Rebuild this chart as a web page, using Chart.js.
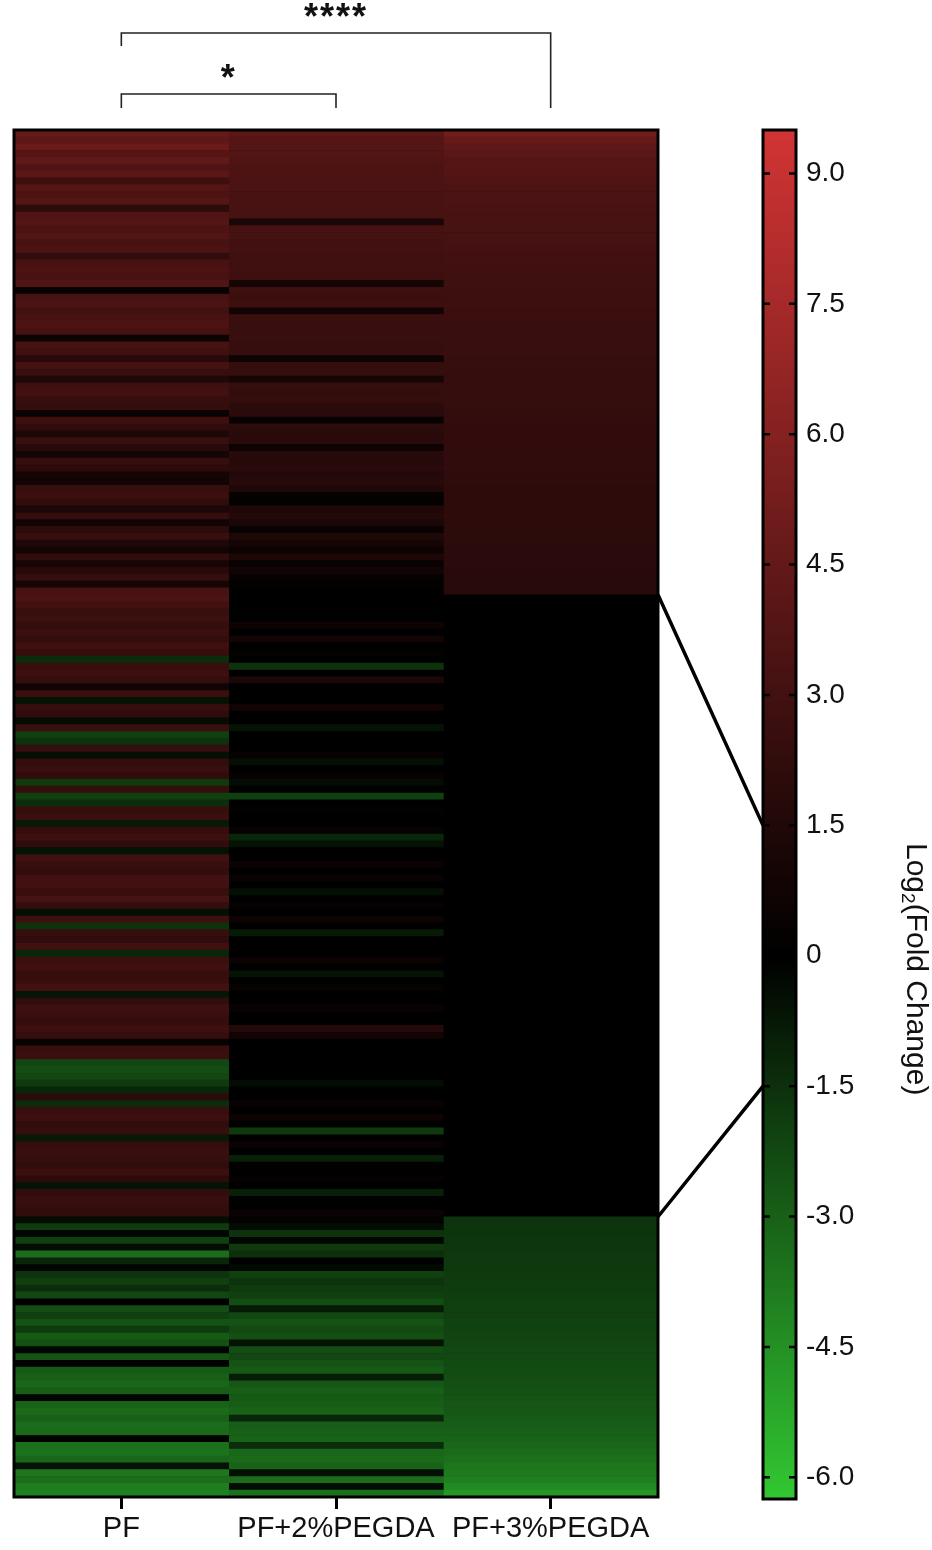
<!DOCTYPE html>
<html>
<head>
<meta charset="utf-8">
<title>Log2 fold change heatmap</title>
<script src="https://cdn.jsdelivr.net/npm/chart.js@4.4.1/dist/chart.umd.min.js"></script>
<style>
  html, body { margin: 0; padding: 0; background: #fff; }
  #wrap { position: relative; width: 932px; height: 1550px; }
  #wrap canvas { position: absolute; left: 0; top: 0; }
</style>
</head>
<body>
<div id="wrap">
  <canvas id="heat" width="932" height="1550"></canvas>
  <canvas id="scale" width="932" height="1550"></canvas>
</div>
<script>
const groups = ["PF", "PF+2%PEGDA", "PF+3%PEGDA"];

// log2 fold change per protein row, read top to bottom
const pf = [
  4.6, 4.2, 4.8, 3.9, 4.4, 3.6, 4.1, 2.8, 3.9, 3.5,
  3.8, 2.0, 3.6, 3.9, 3.4, 3.7, 3.2, 3.5, 2.2, 3.3,
  3.5, 3.3, 3.6, 0.4, 3.2, 3.4, 3.0, 3.3, 3.5, 3.1,
  0.6, 3.2, 2.9, 1.8, 3.1, 2.6, 1.4, 2.8, 3.0, 2.5,
  2.4, 0.5, 2.8, 2.2, 1.3, 2.6, 1.8, 1.0, 2.5, 2.1,
  1.0, 0.8, 2.5, 2.7, 2.2, 1.2, 2.4, 0.8, 2.0, 2.6,
  1.4, 0.9, 2.2, 1.1, 1.8, 2.4, 1.0, 3.2, 3.4, 3.0,
  2.6, 2.8, 2.4, 2.7, 2.3, 2.9, 2.5, -1.4, 2.6, 2.8,
  2.4, 0.8, 2.7, -0.6, 2.5, 2.2, -0.4, 2.6, -2.0, -1.6,
  2.5, -0.5, 2.3, 2.6, 2.2, -1.8, 2.4, -2.0, -1.4, 2.5,
  2.7, -0.8, 2.4, 2.8, 2.2, -0.6, 2.9, 2.6, 2.3, 3.0,
  3.0, 2.6, 3.2, 2.4, -0.5, 2.8, -1.6, 2.5, 2.2, 2.9,
  -1.2, 2.7, 2.9, 2.5, 2.6, 3.0, -0.7, 2.3, 2.8, 2.6,
  2.4, 2.8, 2.5, 0.4, 2.6, 2.7, -2.2, -2.4, -2.2, -1.8,
  -1.2, 2.0, -1.4, 2.6, 2.8, 2.2, 2.5, -0.8, 2.4, 2.6,
  2.5, 2.2, 2.7, 2.0, -0.6, 2.3, 2.6, 2.4, 2.2, -0.4,
  -1.8, -0.2, -2.0, -0.4, -3.4, -1.2, -0.2, -1.6, -2.0, -1.4,
  -2.2, 0.0, -2.4, -2.0, -2.6, -1.8, -2.8, -2.5, -0.2, -2.6,
  -0.1, -2.8, -3.0, -3.2, -2.9, -0.2, -3.1, -3.3, -3.0, -3.4,
  -3.3, -0.1, -3.5, -3.6, -3.2, -0.6, -3.7, -3.4, -3.9, -4.0
];

const pf2 = [
  4.1, 3.9, 3.8, 3.7, 3.6, 3.5, 3.5, 3.4, 3.4, 3.3,
  3.3, 3.2, 3.2, 1.2, 3.1, 3.1, 3.0, 3.0, 2.9, 2.9,
  2.9, 2.8, 1.0, 2.8, 2.7, 2.8, 0.8, 2.7, 2.6, 2.6,
  2.6, 2.5, 2.5, 0.6, 2.4, 2.5, 1.0, 2.4, 2.3, 2.4,
  2.0, 1.9, 0.4, 2.0, 1.8, 1.9, 0.6, 1.8, 1.7, 1.9,
  1.6, 1.8, 1.5, 0.3, 0.2, 1.5, 1.6, 1.2, 0.4, 1.4,
  1.0, 0.6, 1.3, 0.4, 0.8, 0.3, 0.2, 0.1, 0.0, 0.0,
  0.1, 0.0, 0.6, 0.0, 0.9, 0.0, 0.2, 0.0, -1.6, 0.0,
  1.2, 0.0, 0.0, 0.0, 0.8, 0.0, 0.0, -0.6, 0.0, 0.0,
  0.0, 0.4, -0.5, 0.0, 0.3, -0.4, 0.0, -2.0, 0.0, 0.2,
  0.0, 0.0, 0.3, -1.2, -0.6, 0.0, 0.0, 0.5, 0.0, 0.4,
  0.0, -0.5, 0.0, 0.3, 0.0, 0.6, 0.0, -0.8, 0.0, 0.0,
  0.0, 0.5, 0.0, -0.6, 0.0, 0.3, 0.0, 0.0, 0.4, 0.0,
  0.0, 1.6, 0.8, 0.0, 0.0, 0.0, 0.0, 0.0, 0.0, -0.4,
  0.0, 0.0, 0.4, 0.0, 0.6, 0.0, -1.8, 0.0, 0.5, 0.0,
  -1.0, 0.0, 0.0, 0.3, 0.0, -1.0, 0.0, 0.0, 0.5, 0.2,
  -0.4, -1.6, -0.2, -1.8, -1.5, 0.0, -0.3, -2.0, -1.6, -1.8,
  -2.0, -2.4, -0.8, -2.2, -2.6, -2.3, -2.5, -0.6, -2.4, -2.2,
  -2.6, -2.8, -0.9, -2.7, -3.0, -2.8, -2.9, -3.1, -1.2, -2.9,
  -3.0, -3.1, -1.4, -3.2, -3.3, -3.1, -0.5, -3.4, -0.4, -3.5
];

const pf3 = [
  5.2, 4.6, 4.3, 4.1, 3.9, 3.8, 3.7, 3.6, 3.5, 3.45,
  3.4, 3.35, 3.3, 3.25, 3.2, 3.15, 3.1, 3.05, 3.0, 2.95,
  2.9, 2.87, 2.84, 2.8, 2.77, 2.74, 2.7, 2.67, 2.64, 2.6,
  2.58, 2.55, 2.52, 2.5, 2.47, 2.45, 2.42, 2.4, 2.38, 2.36,
  2.34, 2.32, 2.3, 2.28, 2.26, 2.24, 2.22, 2.2, 2.18, 2.16,
  2.14, 2.12, 2.1, 2.08, 2.06, 2.04, 2.02, 2.0, 1.98, 1.96,
  1.94, 1.92, 1.9, 1.88, 1.86, 1.84, 1.82, 1.8, 0, 0,
  0, 0, 0, 0, 0, 0, 0, 0, 0, 0,
  0, 0, 0, 0, 0, 0, 0, 0, 0, 0,
  0, 0, 0, 0, 0, 0, 0, 0, 0, 0,
  0, 0, 0, 0, 0, 0, 0, 0, 0, 0,
  0, 0, 0, 0, 0, 0, 0, 0, 0, 0,
  0, 0, 0, 0, 0, 0, 0, 0, 0, 0,
  0, 0, 0, 0, 0, 0, 0, 0, 0, 0,
  0, 0, 0, 0, 0, 0, 0, 0, 0, 0,
  0, 0, 0, 0, 0, 0, 0, 0, 0, -1.6,
  -1.62, -1.65, -1.68, -1.7, -1.72, -1.75, -1.78, -1.8, -1.83, -1.86,
  -1.9, -1.93, -1.96, -2.0, -2.04, -2.08, -2.12, -2.16, -2.2, -2.25,
  -2.3, -2.35, -2.4, -2.46, -2.52, -2.58, -2.65, -2.72, -2.8, -2.9,
  -3.0, -3.1, -3.2, -3.35, -3.5, -3.65, -3.8, -4.0, -4.3, -4.7
];

const columns = [pf, pf2, pf3];
const cbTicks = [-6, -4.5, -3, -1.5, 0, 1.5, 3, 4.5, 6, 7.5, 9];
const cbMin = -6.25;
const cbMax = 9.5;
const cutoff = 1.5; // regulation threshold shown by the connector lines
const brackets = [
  { from: 0, to: 1, label: "*" },
  { from: 0, to: 2, label: "****" },
];

const RED = [210, 52, 52];
const GREEN = [50, 200, 50];
const FONT = "'Liberation Sans', Arial, sans-serif";

Chart.defaults.font.family = FONT;
Chart.defaults.color = "#111";

function heatColor(v) {
  const end = v >= 0 ? RED : GREEN;
  const t = Math.min(1, v >= 0 ? v / cbMax : v / cbMin);
  return `rgb(${Math.round(end[0] * t)},${Math.round(end[1] * t)},${Math.round(end[2] * t)})`;
}

const heatDecor = {
  id: "heatDecor",
  beforeDatasetsDraw(chart) {
    const { ctx, chartArea: a } = chart;
    ctx.save();
    ctx.fillStyle = "#000";
    ctx.fillRect(a.left, a.top, a.right - a.left, a.bottom - a.top);
    ctx.restore();
  },
  afterDatasetsDraw(chart) {
    const { ctx, chartArea: a } = chart;
    ctx.save();
    ctx.strokeStyle = "#000";
    ctx.lineWidth = 3;
    ctx.strokeRect(a.left, a.top, a.right - a.left, a.bottom - a.top);
    ctx.restore();
  },
  afterDraw(chart) {
    const { ctx, chartArea: a } = chart;
    const x = chart.scales.x;
    const px = (i) => x.getPixelForValue(i + 0.5);
    ctx.save();
    ctx.strokeStyle = "#222";
    ctx.lineWidth = 1.6;
    ctx.fillStyle = "#111";
    ctx.font = `bold 36px ${FONT}`;
    ctx.textAlign = "center";
    ctx.textBaseline = "top";
    ctx.letterSpacing = "2px";
    brackets.forEach((b, k) => {
      const y = a.top - 36 - k * 61;
      const leftDrop = k === 0 ? 14 : 13;
      ctx.beginPath();
      ctx.moveTo(px(b.from), y + leftDrop);
      ctx.lineTo(px(b.from), y);
      ctx.lineTo(px(b.to), y);
      ctx.lineTo(px(b.to), a.top - 22);
      ctx.stroke();
      ctx.fillText(b.label, (px(b.from) + px(b.to)) / 2, y - 32);
    });
    ctx.restore();
  },
};

const heatChart = new Chart(document.getElementById("heat"), {
  type: "bar",
  data: {
    labels: pf.map((_, i) => String(i + 1)),
    datasets: columns.map((values, i) => ({
      label: groups[i],
      data: values.map(() => [i, i + 1]),
      backgroundColor: values.map(heatColor),
      borderWidth: 0,
      barPercentage: 1,
      categoryPercentage: 1,
      grouped: false,
    })),
  },
  options: {
    indexAxis: "y",
    responsive: false,
    animation: false,
    layout: { padding: { left: 14, top: 130, right: 274, bottom: 3 } },
    plugins: { legend: { display: false }, tooltip: { enabled: false } },
    scales: {
      y: { type: "category", display: false },
      x: {
        type: "linear",
        min: 0,
        max: 3,
        afterBuildTicks: (scale) => {
          scale.ticks = groups.map((_, i) => ({ value: i + 0.5 }));
        },
        afterFit: (scale) => {
          scale.height = 50;
        },
        ticks: {
          autoSkip: false,
          maxRotation: 0,
          padding: 3,
          font: { size: 29 },
          color: "#111",
          callback: (v) => groups[Math.floor(v)],
        },
        grid: { drawOnChartArea: false, tickLength: 12, color: "#000", lineWidth: 3 },
        border: { display: false },
      },
    },
  },
  plugins: [heatDecor],
});

const scaleDecor = {
  id: "scaleDecor",
  afterDatasetsDraw(chart) {
    const { ctx, chartArea: a } = chart;
    const y = chart.scales.y;
    ctx.save();
    ctx.strokeStyle = "#000";
    ctx.lineWidth = 2.5;
    y.ticks.forEach((t) => {
      const py = y.getPixelForValue(t.value);
      ctx.beginPath();
      ctx.moveTo(a.left, py);
      ctx.lineTo(a.left + 7, py);
      ctx.moveTo(a.right - 7, py);
      ctx.lineTo(a.right, py);
      ctx.stroke();
    });
    ctx.lineWidth = 3;
    ctx.strokeRect(a.left, a.top, a.right - a.left, a.bottom - a.top);
    ctx.restore();
  },
  afterDraw(chart) {
    const { ctx, chartArea: a } = chart;
    const y = chart.scales.y;

    // connectors from the PF+3%PEGDA blocks to the +/- cutoff on the colour bar
    const hy = heatChart.scales.y;
    const edge = (idx) => (hy.getPixelForValue(idx - 1) + hy.getPixelForValue(idx)) / 2;
    const upEnd = pf3.findIndex((v) => v < cutoff);
    const downStart = pf3.findIndex((v) => v <= -cutoff);
    const hx = heatChart.chartArea.right;
    ctx.save();
    ctx.strokeStyle = "#000";
    ctx.lineWidth = 3.5;
    ctx.beginPath();
    ctx.moveTo(hx, edge(upEnd));
    ctx.lineTo(a.left, y.getPixelForValue(cutoff));
    ctx.moveTo(hx, edge(downStart));
    ctx.lineTo(a.left, y.getPixelForValue(-cutoff));
    ctx.stroke();

    // axis title, rotated to read top to bottom
    ctx.translate(a.right + 119, a.top + (a.bottom - a.top) * 0.613);
    ctx.rotate(Math.PI / 2);
    ctx.fillStyle = "#111";
    ctx.textBaseline = "middle";
    ctx.textAlign = "left";
    const big = `30px ${FONT}`;
    const small = `19px ${FONT}`;
    ctx.font = big;
    const w1 = ctx.measureText("Log").width;
    const w3 = ctx.measureText("(Fold Change)").width;
    ctx.font = small;
    const w2 = ctx.measureText("2").width;
    const x0 = -(w1 + w2 + w3) / 2;
    ctx.font = big;
    ctx.fillText("Log", x0, 0);
    ctx.font = small;
    ctx.fillText("2", x0 + w1, 8);
    ctx.font = big;
    ctx.fillText("(Fold Change)", x0 + w1 + w2, 0);
    ctx.restore();
  },
};

new Chart(document.getElementById("scale"), {
  type: "bar",
  data: {
    labels: [""],
    datasets: [{
      data: [[cbMin, cbMax]],
      backgroundColor: (c) => {
        const chart = c.chart;
        const y = chart.scales.y;
        if (!chart.chartArea || !y) return "#000";
        const top = y.getPixelForValue(cbMax);
        const bottom = y.getPixelForValue(cbMin);
        const g = chart.ctx.createLinearGradient(0, top, 0, bottom);
        g.addColorStop(0, heatColor(cbMax));
        g.addColorStop((y.getPixelForValue(0) - top) / (bottom - top), "#000");
        g.addColorStop(1, heatColor(cbMin));
        return g;
      },
      borderWidth: 0,
      barPercentage: 1,
      categoryPercentage: 1,
    }],
  },
  options: {
    responsive: false,
    animation: false,
    layout: { padding: { left: 763, top: 130, right: 66, bottom: 51 } },
    plugins: { legend: { display: false }, tooltip: { enabled: false } },
    scales: {
      x: { display: false },
      y: {
        position: "right",
        min: cbMin,
        max: cbMax,
        afterBuildTicks: (scale) => {
          scale.ticks = cbTicks.map((v) => ({ value: v }));
        },
        afterFit: (scale) => {
          scale.width = 70;
        },
        ticks: {
          padding: 10,
          font: { size: 28 },
          color: "#111",
          callback: (v) => (v === 0 ? "0" : v.toFixed(1)),
        },
        grid: { display: false, drawTicks: false },
        border: { display: false },
      },
    },
  },
  plugins: [scaleDecor],
});
</script>
</body>
</html>
